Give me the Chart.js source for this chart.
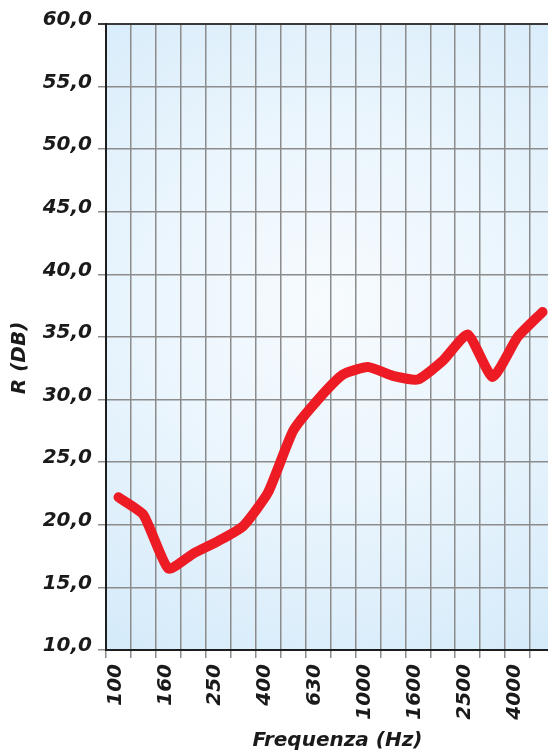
<!DOCTYPE html>
<html>
<head>
<meta charset="utf-8">
<script src="https://cdn.jsdelivr.net/npm/chart.js@4.4.1/dist/chart.umd.min.js"></script>
<style>
html, body { margin: 0; padding: 0; background: #ffffff; overflow: hidden; width: 548px; height: 753px; }
#wrap { position: relative; width: 556px; height: 753px; }
</style>
</head>
<body>
<div id="wrap"><canvas id="c"></canvas></div>
<script>
// third-octave frequency bands (Hz)
const bands = ['100','125','160','200','250','315','400','500','630','800','1000','1250','1600','2000','2500','3150','4000','5000'];
// sound reduction index R (dB)
const rValues = [22.2, 20.8, 16.5, 17.7, 18.7, 19.9, 22.6, 27.5, 30.0, 32.0, 32.6, 31.9, 31.6, 33.1, 35.2, 31.8, 35.0, 37.0];
// labels shown on the x axis
const xTickLabels = ['100','160','250','400','630','1000','1600','2500','4000'];
// y axis range
const yMin = 10, yMax = 60, yStep = 5;

const FONT = "'DejaVu Sans', 'Open Sans', sans-serif";

const bgPlugin = {
  id: 'bg',
  beforeDraw(chart) {
    const {ctx, chartArea: a} = chart;
    const cx = a.left + (a.right - a.left) * 0.5;
    const cy = a.top + (a.bottom - a.top) * 0.45;
    const g = ctx.createRadialGradient(cx, cy, 0, cx, cy, 430);
    g.addColorStop(0, '#f7fbfe');
    g.addColorStop(0.45, '#eaf5fd');
    g.addColorStop(1, '#d2e9f9');
    ctx.save();
    ctx.fillStyle = g;
    ctx.fillRect(a.left, a.top, a.right - a.left, a.bottom - a.top);
    ctx.restore();
  }
};

new Chart(document.getElementById('c'), {
  type: 'line',
  data: {
    labels: bands,
    datasets: [{
      data: rValues,
      borderColor: '#ed1c24',
      borderWidth: 10,
      borderCapStyle: 'round',
      borderJoinStyle: 'round',
      pointRadius: 0,
      pointHoverRadius: 0,
      tension: 0.17,
      fill: false
    }]
  },
  options: {
    responsive: true,
    maintainAspectRatio: false,
    animation: false,
    events: [],
    layout: { padding: { top: 24, right: 1, bottom: 0, left: 0 } },
    plugins: { legend: { display: false }, tooltip: { enabled: false } },
    scales: {
      x: {
        type: 'category',
        offset: true,
        grid: { offset: true, color: '#8c8c8c', lineWidth: 1.5, tickLength: 8, drawOnChartArea: true },
        border: { color: '#1e1e1e', width: 2 },
        ticks: {
          autoSkip: false,
          minRotation: 90,
          maxRotation: 90,
          padding: 6,
          labelOffset: -3,
          color: '#1a1a1a',
          font: { family: FONT, size: 20, weight: 'bold', style: 'italic' },
          callback(val, idx) {
            const lab = this.getLabelForValue(val);
            return xTickLabels.includes(lab) ? lab : '';
          }
        },
        title: {
          display: true,
          text: '  Frequenza (Hz)',
          color: '#1a1a1a',
          font: { family: FONT, size: 20, weight: 'bold', style: 'italic' },
          padding: { top: 0, bottom: 0 }
        },
        afterFit(scale) {
          scale.height = 103;
          scale.paddingLeft = 0;
          scale.paddingRight = 0;
        }
      },
      y: {
        min: yMin,
        max: yMax,
        ticks: {
          stepSize: yStep,
          padding: 6,
          labelOffset: -4,
          color: '#1a1a1a',
          font: { family: FONT, size: 20, weight: 'bold', style: 'italic' },
          callback(v) { return v.toFixed(1).replace('.', ','); }
        },
        grid: {
          color(ctx) { return ctx.tick && ctx.tick.value === yMax ? '#3a3a3a' : '#8c8c8c'; },
          lineWidth(ctx) { return ctx.tick && ctx.tick.value === yMax ? 2 : 1.5; },
          tickLength: 8
        },
        border: { color: '#1e1e1e', width: 2 },
        title: {
          display: true,
          text: 'R (DB)      ',
          color: '#1a1a1a',
          font: { family: FONT, size: 20, weight: 'bold', style: 'italic' },
          padding: { top: 8, bottom: 0 }
        },
        afterFit(scale) { scale.width = 106; }
      }
    }
  },
  plugins: [bgPlugin]
});
</script>
</body>
</html>
